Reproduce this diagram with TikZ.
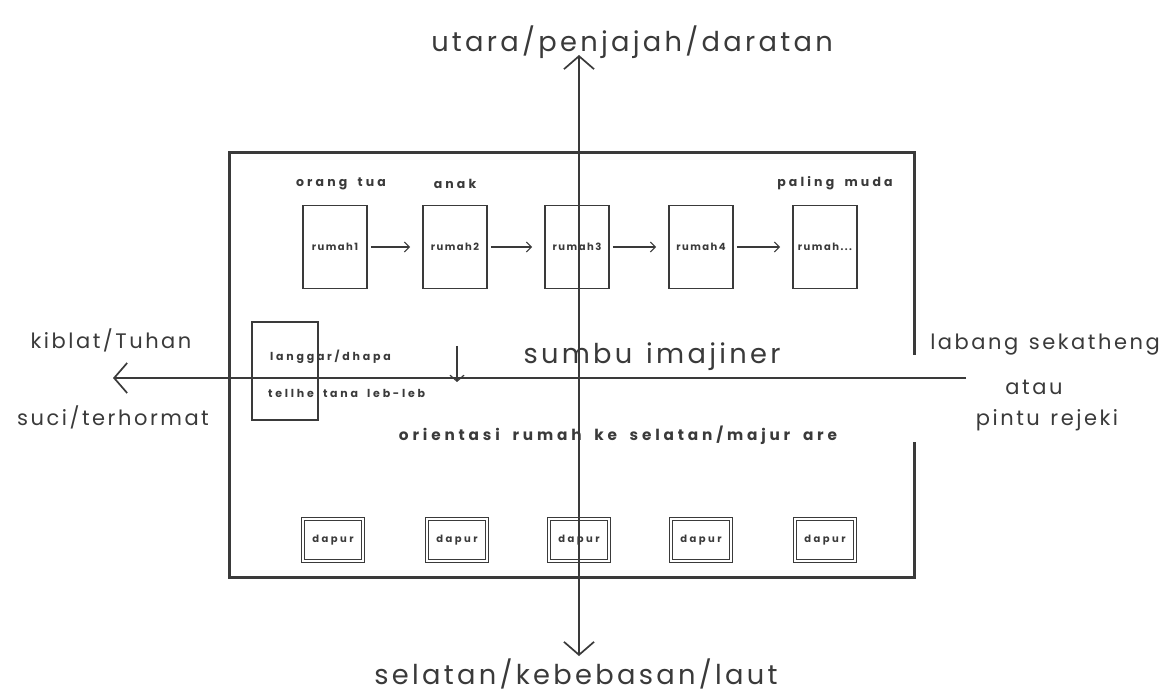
\documentclass[tikz,border=0pt]{standalone}
\usepackage{fontspec}
\setmainfont{Poppins}
\newfontfamily\widefam[LetterSpace=12,WordSpace=1.3]{Poppins}
\newfontfamily\smallfam[LetterSpace=25,WordSpace=1.8]{Poppins}
\newfontfamily\housefam[LetterSpace=15]{Poppins}
\usetikzlibrary{arrows.meta}
\definecolor{ink}{HTML}{3A3A3A}
\tikzset{
  house/.style={draw=ink, line width=1.6pt, minimum width=64pt, minimum height=83pt, inner sep=0pt, font=\housefam\fontsize{10}{11}\selectfont\bfseries, text=ink},
  kitchen/.style={draw=ink, line width=1.1pt, double=white, double distance=2.4pt, minimum width=60pt, minimum height=42pt, inner sep=0pt, font=\smallfam\fontsize{10}{11}\selectfont\bfseries, text=ink},
  tiny/.style={font=\smallfam\fontsize{12.5}{13}\selectfont\bfseries, text=ink, inner sep=0pt},
  ltext/.style={font=\smallfam\fontsize{11}{12}\selectfont\bfseries, text=ink, inner sep=0pt},
  mid/.style={font=\widefam\fontsize{21}{23}\selectfont, text=ink, inner sep=0pt},
  big/.style={font=\widefam\fontsize{27.3}{29}\selectfont, text=ink, inner sep=0pt},
  flow/.style={draw=ink, line width=1.2pt, -{Straight Barb[length=5pt,width=10pt]}},
  axis/.style={draw=ink, line width=1.7pt},
  frame/.style={draw=ink, line width=3pt}
}
\begin{document}
\begin{tikzpicture}[x=1pt,y=-1pt]
\useasboundingbox[fill=white] (0,0) rectangle (1167,692);
% frame
\coordinate (fa) at (914,355);
\coordinate (fb) at (914,153);
\coordinate (fc) at (229,153);
\coordinate (fd) at (229,577);
\coordinate (fe) at (914,577);
\coordinate (ff) at (914,442);
\draw[frame] (fa) -- (fb) -- (fc) -- (fd) -- (fe) -- (ff);
% houses
\node[house] (r1) at (335,247) {rumah1};
\node[house] (r2) at (455,247) {rumah2};
\node[house] (r3) at (577,247) {rumah3};
\node[house] (r4) at (701,247) {rumah4};
\node[house] (r5) at (825,247) {rumah...};
\draw[flow, shorten <=3pt, shorten >=12pt] (r1) -- (r2);
\draw[flow, shorten <=3pt, shorten >=12pt] (r2) -- (r3);
\draw[flow, shorten <=3pt, shorten >=12pt] (r3) -- (r4);
\draw[flow, shorten <=3pt, shorten >=12pt] (r4) -- (r5);
\node[tiny] (l1) at (341,184) {orang tua};
\node[tiny] (l2) at (455,184) {anak};
\node[tiny] (l5) at (835,183) {paling muda};
% kitchens
\node[kitchen] (d1) at (333,540) {dapur};
\node[kitchen] (d2) at (457,540) {dapur};
\node[kitchen] (d3) at (579,540) {dapur};
\node[kitchen] (d4) at (701,540) {dapur};
\node[kitchen] (d5) at (825,540) {dapur};
% left box
\node[draw=ink, line width=1.6pt, minimum width=66pt, minimum height=98pt, inner sep=0pt] (lb) at (285,371) {};
\node[ltext, anchor=west] (lt1) at (270,357) {langgar/dhapa};
\node[ltext, anchor=west] (lt2) at (268,393) {tellhe tana leb-leb};
% axes
\coordinate (ntop) at (579,55);
\coordinate (sbot) at (579,656);
\coordinate (eend) at (966,378);
\coordinate (wend) at (113,378);
\draw[axis, {Straight Barb[length=13pt,width=30pt]}-{Straight Barb[length=13pt,width=30pt]}] (ntop) -- (sbot);
\draw[axis, -{Straight Barb[length=13pt,width=30pt]}] (eend) -- (wend);
% down arrow
\coordinate (da1) at (457,346);
\coordinate (da2) at (457,382);
\draw[flow, -{Straight Barb[length=6pt,width=14pt]}] (da1) -- (da2);
\node[big] (sumbu) at (652,357) {sumbu imajiner};
\node[font=\smallfam\fontsize{15.3}{16}\selectfont\bfseries, text=ink, inner sep=0pt] (orient) at (618,435) {orientasi rumah ke selatan/majur are};
% outer labels
\node[big] (north) at (632,42) {utara/penjajah/daratan};
\node[big] (south) at (576,674) {selatan/kebebasan/laut};
\node[mid] (w1) at (111,340) {kiblat/Tuhan};
\node[mid] (w2) at (113,417) {suci/terhormat};
\node[mid] (e1) at (1045,345) {labang sekatheng};
\node[mid] (e2) at (1034,387) {atau};
\node[mid] (e3) at (1047,420) {pintu rejeki};
\end{tikzpicture}
\end{document}
